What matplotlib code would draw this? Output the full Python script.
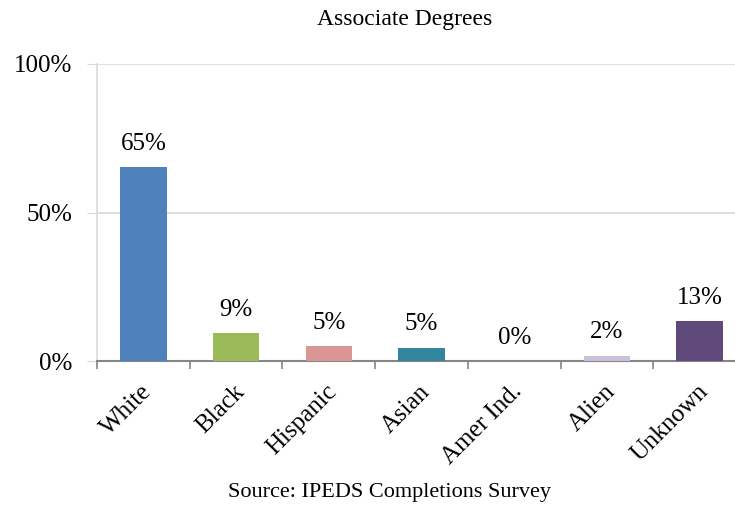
import numpy as np
import matplotlib.pyplot as plt
import matplotlib.transforms as mtransforms

categories = ["White", "Black", "Hispanic", "Asian", "Amer Ind.", "Alien", "Unknown"]
values = [65.3, 9.4, 4.9, 4.5, 0.0, 1.8, 13.4]
labels = ["65%", "9%", "5%", "5%", "0%", "2%", "13%"]
colors = ["#4F81BD", "#9BBB59", "#D99694", "#31859C", "#8064A2", "#CCC1DA", "#604A7B"]
y_ticks = [0, 50, 100]
y_tick_labels = ["0%", "50%", "100%"]

plt.rcParams['font.family'] = ['Liberation Serif', 'DejaVu Serif']

fig = plt.figure(figsize=(7.35, 5.08), dpi=100)
W, H = 735, 508
# axes in pixel coords: left 97, right ~746 (cropped), bottom 361, top 64
ax = fig.add_axes([97 / W, 1 - 361 / H, (746 - 97) / W, (361 - 64) / H])

x = np.arange(len(categories))
ax.bar(x, values, width=0.5, color=colors, zorder=3)
for xi, v, lab in zip(x, values, labels):
    ax.annotate(lab, (xi, v), xytext=(0, 9), textcoords='offset points',
                ha='center', va='bottom', fontsize=18)

ax.set_xlim(-0.5, len(categories) - 0.5)
ax.set_ylim(0, 100)
ax.set_yticks(y_ticks)
ax.set_yticklabels(y_tick_labels, fontsize=18)
ax.yaxis.grid(True, color="#D9D9D9", linewidth=1.2, zorder=0)
ax.tick_params(axis='y', length=7, color="#D9D9D9", pad=11)

ax.set_xticks(np.arange(len(categories) + 1) - 0.5, minor=False)
ax.set_xticklabels([])
ax.tick_params(axis='x', which='major', length=6, color="#868686", width=1.2, direction='out')
ax.set_xticks(x, minor=True)
ax.set_xticklabels(categories, minor=True, rotation=45, ha='right', rotation_mode='anchor', fontsize=18)
ax.tick_params(axis='x', which='minor', length=0, pad=14)
shift = mtransforms.ScaledTranslation(-3 / 100, 0, fig.dpi_scale_trans)
for t in ax.get_xticklabels(minor=True):
    t.set_transform(t.get_transform() + shift)

for s in ['top', 'right']:
    ax.spines[s].set_visible(False)
ax.spines['left'].set_color("#D9D9D9")
ax.spines['left'].set_linewidth(1.2)
ax.spines['bottom'].set_color("#868686")
ax.spines['bottom'].set_linewidth(1.5)

fig.text(405 / W, 1 - 19 / H, "Associate Degrees", ha='center', va='center', fontsize=17)
fig.text(390 / W, 1 - 493 / H, "Source: IPEDS Completions Survey", ha='center', va='center', fontsize=16)

fig.savefig("out.png", dpi=100)
